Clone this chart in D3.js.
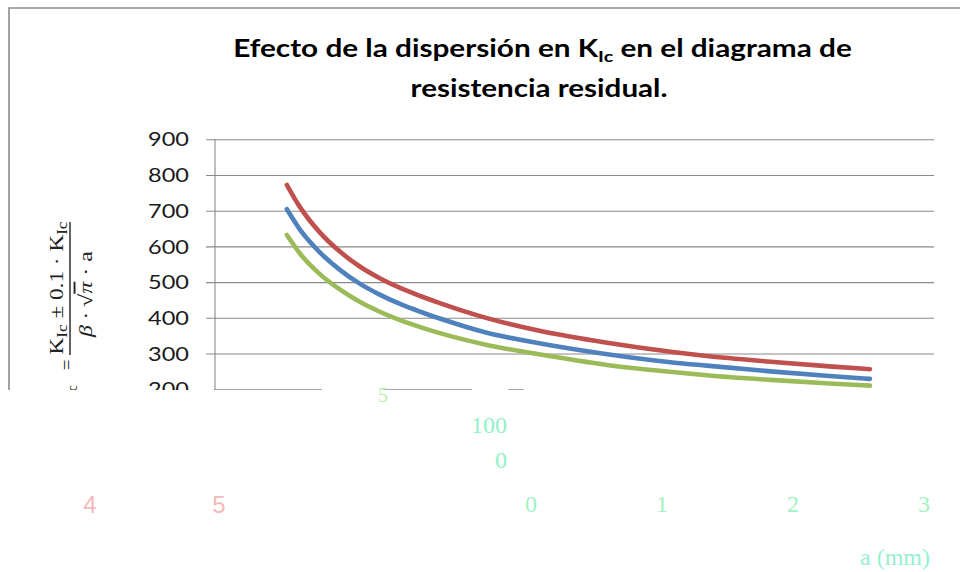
<!DOCTYPE html>
<html>
<head>
<meta charset="utf-8">
<script src="https://cdn.jsdelivr.net/npm/d3@7"></script>
<style>
  html, body { margin: 0; padding: 0; background: #fff; }
  svg { display: block; }
</style>
</head>
<body>
<svg id="chart" width="960" height="572"></svg>
<script>
// ---- data ----
const crackLength = [0.55, 0.65, 0.80, 0.96, 1.11, 1.26, 1.42, 1.57, 1.72, 2.08, 2.49, 3.0, 3.5, 3.76, 4.25, 4.7, 5.01];
const sigmaUpper  = [772, 710, 640, 584, 543, 511, 483, 461, 441, 399, 363, 330, 304, 293, 277, 264, 256];
const sigmaNominal= [704, 647, 584, 533, 495, 465, 438, 417, 398, 358, 328, 298, 275, 266, 250, 237, 229];
const sigmaLower  = [632, 580, 523, 478, 444, 417, 393, 374, 357, 324, 297, 268, 248, 239, 226, 216, 210];
const yTicks = [0, 100, 200, 300, 400, 500, 600, 700, 800, 900];
const seriesNames = ["KIc + 10%", "KIc", "KIc - 10%"];
const seriesColors = ["#C0504D", "#4F81BD", "#9BBB59"];

// stray fragments visible in the damaged lower part of the picture
const ghostTexts = [
  {t: "5",      x: 383, y: 402, c: "#b8f0a8", a: "middle", f: "serif", s: 20},
  {t: "100",    x: 507, y: 433, c: "#8ff2c8", a: "end",    f: "serif", s: 24},
  {t: "0",      x: 507, y: 468, c: "#8ff2c8", a: "end",    f: "serif", s: 24},
  {t: "0",      x: 531, y: 512, c: "#9ff3c4", a: "middle", f: "serif", s: 24},
  {t: "1",      x: 662, y: 512, c: "#9ff3c4", a: "middle", f: "serif", s: 24},
  {t: "2",      x: 793, y: 512, c: "#9ff3c4", a: "middle", f: "serif", s: 24},
  {t: "3",      x: 924, y: 512, c: "#9ff3c4", a: "middle", f: "serif", s: 24},
  {t: "4",      x: 90,  y: 513, c: "#f6b8b8", a: "middle", f: "sans",  s: 24},
  {t: "5",      x: 219, y: 513, c: "#f6b8b8", a: "middle", f: "sans",  s: 24},
  {t: "a (mm)", x: 895, y: 565, c: "#96f0d0", a: "middle", f: "serif", s: 24}
];

// ---- drawing ----
const svg = d3.select("#chart");
const W = 960, H = 572;
const plot = {left: 215, right: 934, top: 139.3, bottom: 460.6};

const x = d3.scaleLinear().domain([0, 5.5]).range([plot.left, plot.right]);
const y = d3.scaleLinear().domain([0, 900]).range([plot.bottom, plot.top]);

svg.append("rect").attr("width", W).attr("height", H).attr("fill", "#fff");

const defs = svg.append("defs");
defs.append("clipPath").attr("id", "visible")
  .append("rect").attr("x", 0).attr("y", 0).attr("width", W).attr("height", 390);

const g = svg.append("g").attr("clip-path", "url(#visible)");

// chart area border (top & left)
g.append("path")
  .attr("d", "M9,392 V8 H960")
  .attr("fill", "none").attr("stroke", "#8c8c8c").attr("stroke-width", 1.6);

function fitX(sel, target, anchorX) {
  const w = sel.node().getBBox().width;
  const s = target / w;
  sel.attr("transform", `translate(${anchorX},0) scale(${s},1) translate(${-anchorX},0)`);
  return s;
}

// title
const t1 = g.append("text")
  .attr("x", 542.5).attr("y", 57).attr("text-anchor", "middle")
  .attr("font-family", "Lato, 'Open Sans', sans-serif").attr("font-weight", "bold")
  .attr("font-size", 24).attr("fill", "#000");
t1.append("tspan").text("Efecto de la dispersión en K");
t1.append("tspan").attr("font-size", 16).attr("dy", 5).text("Ic");
t1.append("tspan").attr("dy", -5).text(" en el diagrama de");
fitX(t1, 619, 542.5);

const t2 = g.append("text")
  .attr("x", 539).attr("y", 97).attr("text-anchor", "middle")
  .attr("font-family", "Lato, 'Open Sans', sans-serif").attr("font-weight", "bold")
  .attr("font-size", 24).attr("fill", "#000")
  .text("resistencia residual.");
fitX(t2, 257, 539);

// gridlines (with outward tick stubs)
const yAxis = d3.axisLeft(y).tickValues(yTicks).tickSize(-(plot.right - plot.left)).tickFormat("");
const gy = g.append("g").attr("transform", `translate(${plot.left},0)`).call(yAxis);
gy.select(".domain").remove();
gy.selectAll(".tick line")
  .attr("x1", -9)
  .attr("stroke", "#8a8a8a").attr("stroke-width", 1.1);

// vertical axis line
g.append("line")
  .attr("x1", plot.left).attr("x2", plot.left)
  .attr("y1", y(900)).attr("y2", y(0))
  .attr("stroke", "#8a8a8a").attr("stroke-width", 1.1);

// y tick labels
const yl = g.append("g");
const labels = yl.selectAll("text").data(yTicks).join("text")
  .attr("x", 189).attr("y", d => y(d)).attr("dy", "0.36em")
  .attr("text-anchor", "end")
  .attr("font-family", "Lato, 'Open Sans', sans-serif")
  .attr("font-size", 20).attr("fill", "#1a1a1a")
  .text(d => d);
const w900 = labels.filter(d => d === 900).node().getBBox().width;
const sx = 41 / w900;
yl.attr("transform", `translate(189,0) scale(${sx},1) translate(-189,0)`);

// rotated y-axis formula
const fg = g.append("g").attr("transform", "translate(70,288) rotate(-90)")
  .attr("font-family", "'Liberation Serif', 'DejaVu Serif', serif").attr("fill", "#222");
const num = fg.append("text").attr("x", 0).attr("y", -7).attr("text-anchor", "middle").attr("font-size", 19);
num.append("tspan").text("K");
num.append("tspan").attr("font-size", 14).attr("dy", 4).text("Ic");
num.append("tspan").attr("dy", -4).text(" ± 0.1 · K");
num.append("tspan").attr("font-size", 14).attr("dy", 4).text("Ic");
(function () {
  const w = num.node().getBBox().width;
  num.attr("transform", `scale(${133 / w},1)`);
})();
fg.append("line").attr("x1", -67).attr("x2", 66).attr("y1", 0).attr("y2", 0)
  .attr("stroke", "#222").attr("stroke-width", 1.4);
const den = fg.append("text").attr("x", -6).attr("y", 22).attr("text-anchor", "middle")
  .attr("font-size", 19).attr("font-style", "italic");
den.append("tspan").text("β · √");
den.append("tspan").attr("text-decoration", "overline").text("π");
den.append("tspan").attr("font-style", "normal").text(" · a");
(function () {
  const w = den.node().getBBox().width;
  den.attr("transform", `translate(-6,0) scale(${88 / w},1) translate(6,0)`);
})();
fg.append("text").attr("x", -77).attr("y", 3).attr("text-anchor", "middle")
  .attr("font-size", 19).text("=");
const sig = fg.append("text").attr("x", -97).attr("y", 3).attr("text-anchor", "end").attr("font-size", 19);
sig.append("tspan").attr("font-style", "italic").text("σ");
sig.append("tspan").attr("font-size", 14).attr("dy", 4).text("c");

// curves
const seriesData = [sigmaUpper, sigmaNominal, sigmaLower];
const line = d3.line()
  .x(d => x(d[0])).y(d => y(d[1]))
  .curve(d3.curveMonotoneX);
g.append("g").selectAll("path").data(seriesData).join("path")
  .attr("d", vals => line(crackLength.map((a, i) => [a, vals[i]])))
  .attr("fill", "none")
  .attr("stroke", (d, i) => seriesColors[i])
  .attr("stroke-width", 4.6)
  .attr("stroke-linecap", "round")
  .attr("stroke-linejoin", "round")
  .append("title").text((d, i) => seriesNames[i]);

// damaged strip: gaps in the 200 gridline
[[195, 214], [322, 383], [472, 508], [524, 960]].forEach(([a, b]) => {
  g.append("rect").attr("x", a).attr("y", 388.3).attr("width", b - a).attr("height", 3).attr("fill", "#fff");
});

// ghost fragments in the lower, damaged area
svg.append("g").selectAll("text").data(ghostTexts).join("text")
  .attr("x", d => d.x).attr("y", d => d.y)
  .attr("text-anchor", d => d.a)
  .attr("font-family", d => d.f === "serif" ? "'Liberation Serif', serif" : "'Liberation Sans', sans-serif")
  .attr("font-size", d => d.s)
  .attr("fill", d => d.c)
  .text(d => d.t);
</script>
</body>
</html>
